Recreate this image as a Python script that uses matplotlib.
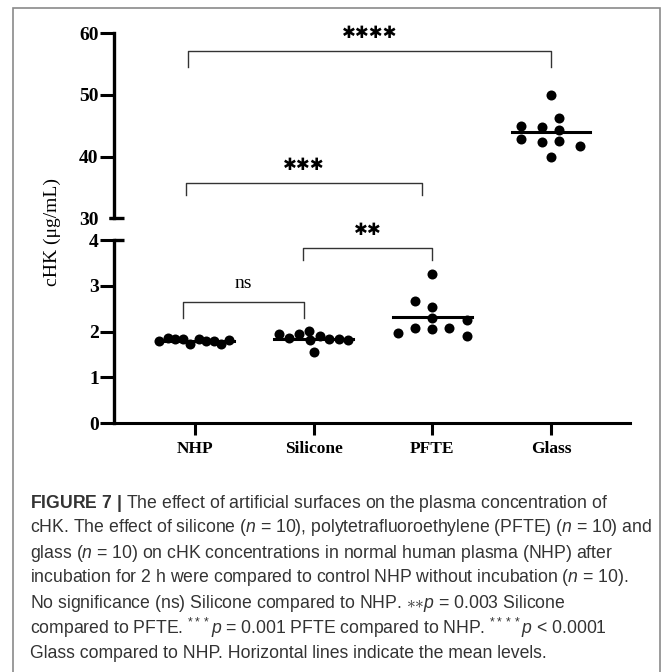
import matplotlib.pyplot as plt
from matplotlib.patches import Rectangle

sans = 'Liberation Sans'
plt.rcParams['mathtext.fontset'] = 'custom'
plt.rcParams['mathtext.rm'] = sans
plt.rcParams['mathtext.it'] = sans + ':italic'
plt.rcParams['mathtext.bf'] = sans + ':bold'

groups = ["NHP", "Silicone", "PFTE", "Glass"]

# cHK (ug/mL), 10 samples per group
nhp = [1.79, 1.87, 1.83, 1.85, 1.73, 1.83, 1.80, 1.79, 1.74, 1.81]
silicone = [1.94, 1.87, 1.94, 2.01, 1.81, 1.56, 1.90, 1.83, 1.83, 1.81]
pfte = [1.97, 2.09, 2.66, 2.53, 3.26, 2.29, 2.05, 2.09, 2.26, 1.91]
glass = [50.0, 45.0, 44.8, 46.3, 44.4, 42.8, 42.3, 42.5, 41.8, 40.0]

# horizontal scatter of the dots inside each column
nhp_jit = [-0.30, -0.23, -0.17, -0.10, -0.04, 0.03, 0.09, 0.16, 0.22, 0.29]
sil_jit = [-0.29, -0.21, -0.12, -0.04, -0.03, 0.0, 0.05, 0.13, 0.21, 0.29]
pfte_jit = [-0.29, -0.15, -0.15, 0, 0, 0, 0, 0.14, 0.29, 0.29]
glass_jit = [0, -0.25, -0.08, 0.07, 0.07, -0.25, -0.08, 0.07, 0.24, 0]

# comparisons: left group, right group, label
comparisons = [("NHP", "Silicone", "ns"), ("Silicone", "PFTE", "**"),
               ("NHP", "PFTE", "***"), ("NHP", "Glass", "****")]

caption = [
    r"$\mathbf{FIGURE\ 7\ |}$ The effect of artificial surfaces on the plasma concentration of",
    r"cHK. The effect of silicone ($n$ = 10), polytetrafluoroethylene (PFTE) ($n$ = 10) and",
    r"glass ($n$ = 10) on cHK concentrations in normal human plasma (NHP) after",
    r"incubation for 2 h were compared to control NHP without incubation ($n$ = 10).",
    r"No significance (ns) Silicone compared to NHP. ${\ast}{\ast}p$ = 0.003 Silicone",
    r"compared to PFTE. ${}^{***}p$ = 0.001 PFTE compared to NHP. ${}^{****}p$ < 0.0001",
    r"Glass compared to NHP. Horizontal lines indicate the mean levels.",
]

W = 672.0
fig = plt.figure(figsize=(6.72, 6.72), dpi=100)
ax_top = fig.add_axes([114 / W, 1 - 218.3 / W, 516 / W, 185 / W])
ax_bot = fig.add_axes([114 / W, 1 - 423.3 / W, 516 / W, 183.3 / W])

serif = 'Liberation Serif'
data = [nhp, silicone, pfte, glass]
jit = [nhp_jit, sil_jit, pfte_jit, glass_jit]

for ax in (ax_top, ax_bot):
    for i, (vals, jj) in enumerate(zip(data, jit)):
        xs = [i + j for j in jj]
        ax.scatter(xs, vals, s=52, color='black', zorder=3, linewidths=0)
        m = sum(vals) / len(vals)
        ax.plot([i - 0.33, i + 0.33], [m, m], color='black', lw=2.2, zorder=2)
    ax.set_xlim(-0.682, 3.665)
    ax.spines['top'].set_visible(False)
    ax.spines['right'].set_visible(False)
    ax.spines['left'].set_linewidth(2.4)
    ax.tick_params(axis='y', length=10, width=2.2, pad=1)

ax_top.set_ylim(30, 60)
ax_top.set_yticks([30, 40, 50, 60])
ax_top.spines['bottom'].set_visible(False)
ax_top.set_xticks([])
ax_top.yaxis.get_major_ticks()[0].tick1line.set_markersize(3.5)

ax_bot.set_ylim(0, 4)
ax_bot.set_yticks([0, 1, 2, 3, 4])
ax_bot.spines['bottom'].set_linewidth(2.2)
ax_bot.set_xticks(range(len(groups)))
ax_bot.set_xticklabels(groups)
ax_bot.tick_params(axis='x', length=8.5, width=2.2, pad=4)

for ax in (ax_top, ax_bot):
    for lab in ax.get_yticklabels() + ax.get_xticklabels():
        lab.set_fontfamily(serif)
        lab.set_fontweight('bold')
        lab.set_fontsize(14)
for lab in ax_bot.get_xticklabels():
    lab.set_fontsize(12.5)

# axis break caps
ax_top.plot([-5 / 516, 10 / 516], [30, 30], transform=ax_top.get_yaxis_transform(),
            color='black', lw=2.4, clip_on=False, solid_capstyle='butt')
ax_bot.plot([0, 10 / 516], [4, 4], transform=ax_bot.get_yaxis_transform(),
            color='black', lw=2.4, clip_on=False, solid_capstyle='butt')

# significance brackets
bk = {"ns": (ax_bot, -0.10, -0.08, 2.65, 2.30),
      "**": (ax_bot, -0.09, 0.0, 3.83, 3.56),
      "***": (ax_top, -0.076, -0.09, 35.8, 33.8),
      "****": (ax_top, -0.06, 0.0, 57.2, 54.6)}
for g1, g2, lab in comparisons:
    ax, o1, o2, top, bot = bk[lab]
    x1 = groups.index(g1) + o1
    x2 = groups.index(g2) + o2
    ax.plot([x1, x1, x2, x2], [bot, top, top, bot], color='#333333', lw=1.0,
            clip_on=False, zorder=1)
    if lab == "ns":
        ax.annotate(lab, ((x1 + x2) / 2, top), xytext=(0, 13), textcoords='offset points',
                    ha='center', va='center', fontsize=14, family=serif)
    else:
        ax.annotate("\u2731" * len(lab), ((x1 + x2) / 2, top), xytext=(0, 12.5),
                    textcoords='offset points', ha='center', va='center',
                    fontsize=12, family='DejaVu Sans', annotation_clip=False)

fig.text(52 / W, 1 - 232 / W, "cHK (\u03bcg/mL)", rotation=90, ha='center', va='center',
         fontsize=14, family=serif)

# caption
for k, line in enumerate(caption):
    fig.text(30 / W, 1 - (503 + 25 * k) / W, line, ha='left', va='center',
             fontsize=12.7, family=sans, color='#333333')

fig.patches.append(Rectangle((13 / W, -0.05), 647 / W, 1.05 - 8 / W,
                             transform=fig.transFigure, fill=False,
                             edgecolor='#8a8a8a', lw=1.2))

plt.savefig('out.png', dpi=100)
